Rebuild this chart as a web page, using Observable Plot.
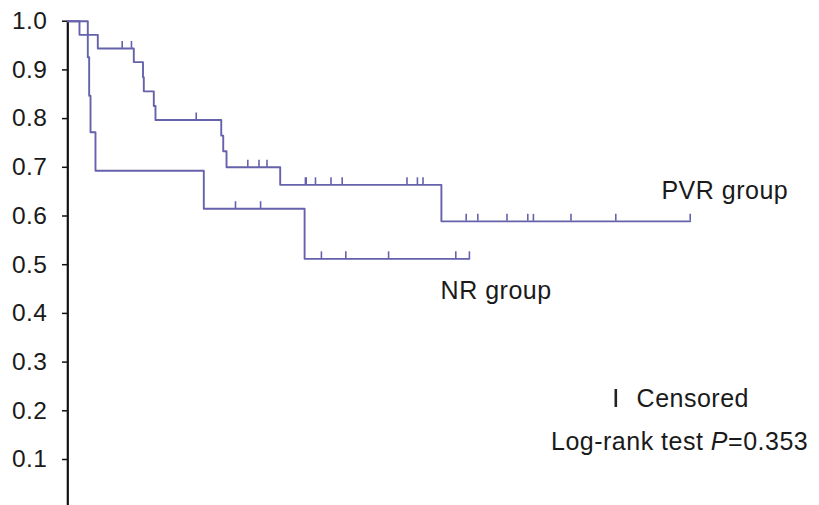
<!DOCTYPE html>
<html>
<head>
<meta charset="utf-8">
<script src="https://cdn.jsdelivr.net/npm/d3@7"></script>
<script src="https://cdn.jsdelivr.net/npm/@observablehq/plot@0.6"></script>
<style>
  html, body { margin: 0; padding: 0; background: #fff; }
  #chart { width: 819px; height: 505px; overflow: hidden; }
</style>
</head>
<body>
<div id="chart"></div>
<script>
// ---- Data (time in months-like units, survival proportion) ----
const pvrTime = [0, 1.46, 3.75, 8.25, 9.4, 9.5, 10.75, 10.96, 19.18, 19.43, 19.84, 26.55, 46.7, 77.8];
const pvrSurv = [1, 0.972, 0.944, 0.916, 0.885, 0.856, 0.826, 0.797, 0.765, 0.733, 0.700, 0.664, 0.589, 0.589];
const pvrCensored = [6.8, 7.96, 16.05, 22.5, 23.9, 24.9, 29.7, 29.8, 30.96, 32.9, 34.3, 42.4, 43.7, 44.4,
                     49.8, 51.25, 54.9, 57.5, 58.2, 62.9, 68.5, 77.8];

const nrTime = [0, 2.5, 2.67, 2.84, 3.46, 17.0, 29.6, 50.2];
const nrSurv = [1, 0.926, 0.847, 0.772, 0.693, 0.615, 0.512, 0.512];
const nrCensored = [20.96, 24.1, 31.7, 34.75, 40.1, 48.5, 50.2];

const yTicks = [0.1, 0.2, 0.3, 0.4, 0.5, 0.6, 0.7, 0.8, 0.9, 1.0];
const groupLabels = ["PVR group", "NR group"];
const legendLabel = "Censored";
const testLabel = "Log-rank test P=0.353";

// ---- Build tables ----
const curves = [
  ...pvrTime.map((t, i) => ({group: groupLabels[0], t, s: pvrSurv[i]})),
  ...nrTime.map((t, i) => ({group: groupLabels[1], t, s: nrSurv[i]}))
];
function survAt(times, surv, t) {
  const i = d3.bisectRight(times, t) - 1;
  return surv[Math.max(0, i)];
}
const censors = [
  ...pvrCensored.map(t => ({group: groupLabels[0], t, s: survAt(pvrTime, pvrSurv, t)})),
  ...nrCensored.map(t => ({group: groupLabels[1], t, s: survAt(nrTime, nrSurv, t)}))
];

const lineColor = "#6562ab";
const font = "'Liberation Sans', Arial, Helvetica, sans-serif";

const annotations = [
  {t: 74.2, s: 0.651, text: groupLabels[0]},
  {t: 46.6, s: 0.446, text: groupLabels[1]},
  {t: 71.1, s: 0.2245, text: legendLabel},
  {t: 60.4, s: 0.1357, text: testLabel}
];

const chart = Plot.plot({
  width: 819,
  height: 505,
  marginLeft: 67,
  marginRight: 0,
  marginTop: 0,
  marginBottom: 0,
  x: {domain: [0, 94], range: [67.3, 819.3], axis: null},
  y: {domain: [0, 1], range: [507.7, 20.7], label: null},
  style: {fontFamily: font, fontSize: "24px", color: "#1a1a1a", background: "#fff", overflow: "hidden"},
  marks: [
    Plot.ruleX([0], {y1: 0, y2: 1, stroke: "#111", strokeWidth: 2.2}),
    Plot.axisY(yTicks, {
      tickSize: 5, tickPadding: 15, fontSize: 24.5, stroke: "#111", strokeWidth: 1.5,
      tickFormat: d3.format(".1f"), fill: "#1a1a1a", strokeOpacity: 1, label: null
    }),
    Plot.line(curves, {x: "t", y: "s", z: "group", curve: "step-after", stroke: lineColor, strokeWidth: 1.9}),
    Plot.ruleX(censors, {x: "t", y1: "s", y2: "s", insetTop: -7, stroke: lineColor, strokeWidth: 1.6}),
    Plot.ruleX([legendLabel], {x: 68.5, y1: 0.2068, y2: 0.2437, stroke: "#222", strokeWidth: 2.6}),
    Plot.text(annotations, {
      x: "t", y: "s", text: "text", textAnchor: "start", lineAnchor: "middle",
      fontSize: 25, fill: "#1a1a1a", fontFamily: font
    })
  ]
});

// italic P in the log-rank label
d3.select(chart).selectAll("text").each(function () {
  if (this.textContent === testLabel) {
    const el = d3.select(this);
    el.text(null);
    el.append("tspan").text("Log-rank test ");
    el.append("tspan").attr("font-style", "italic").text("P");
    el.append("tspan").text("=0.353");
  }
});
d3.select(chart).selectAll("text").style("letter-spacing", "0.5px");

document.getElementById("chart").appendChild(chart);
</script>
</body>
</html>
